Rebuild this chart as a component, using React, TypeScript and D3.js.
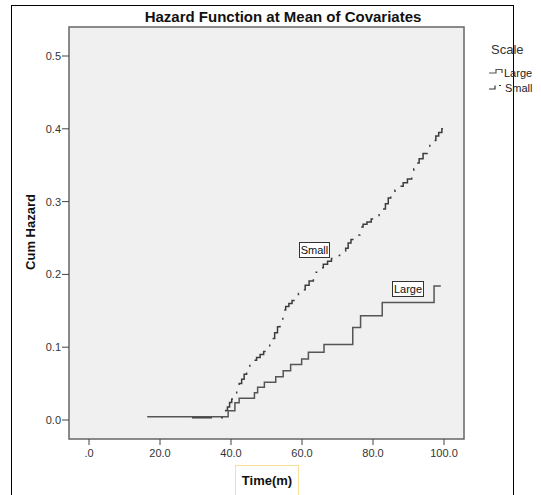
import React from "react";
import * as d3 from "d3";

const title = "Hazard Function at Mean of Covariates";
const xTicks = [0, 20, 40, 60, 80, 100];
const xTickLabels = [".0", "20.0", "40.0", "60.0", "80.0", "100.0"];
const yTicks = [0, 0.1, 0.2, 0.3, 0.4, 0.5];
const yTickLabels = ["0.0", "0.1", "0.2", "0.3", "0.4", "0.5"];
const seriesNames = ["Large", "Small"];

// Step function: jump at time -> level after jump
const largeTimes = [16.4, 39.2, 41.1, 42.3, 46.6, 47.5, 49.4, 52.6, 54.7, 56.8, 59.9, 61.8, 66.2, 74.3, 76.5, 82.6, 97.2, 99.1];
const largeHazard = [0.0045, 0.0128, 0.0237, 0.030, 0.0374, 0.0449, 0.0517, 0.0594, 0.0676, 0.0764, 0.0837, 0.0929, 0.1036, 0.1272, 0.1431, 0.1615, 0.1842, 0.1842];

const smallTimes = [29.0, 37.8, 38.5, 39.0, 39.6, 40.2, 41.0, 41.6, 42.3, 43.0, 43.7, 44.4, 45.3, 46.3, 47.2, 48.2, 49.2, 50.1, 50.9, 51.6, 52.3, 53.1, 53.8, 54.6, 55.4, 56.3, 57.2, 58.0, 59.0, 59.9, 60.9, 62.0, 63.2, 64.0, 65.0, 66.0, 67.2, 68.3, 69.3, 70.6, 71.4, 72.3, 73.0, 73.8, 74.6, 75.4, 76.3, 77.2, 78.3, 79.5, 80.6, 81.7, 82.7, 83.5, 84.3, 85.0, 86.2, 87.4, 88.5, 89.7, 90.9, 91.5, 92.1, 93.0, 94.1, 95.3, 96.0, 96.8, 97.7, 98.5, 99.4];
const smallHazard = [0.003, 0.008, 0.013, 0.018, 0.024, 0.029, 0.036, 0.042, 0.050, 0.056, 0.063, 0.071, 0.076, 0.082, 0.086, 0.090, 0.094, 0.099, 0.105, 0.112, 0.120, 0.128, 0.136, 0.151, 0.156, 0.160, 0.164, 0.169, 0.174, 0.179, 0.185, 0.191, 0.198, 0.203, 0.209, 0.214, 0.218, 0.222, 0.226, 0.229, 0.232, 0.236, 0.243, 0.248, 0.250, 0.254, 0.265, 0.269, 0.272, 0.276, 0.281, 0.285, 0.290, 0.297, 0.305, 0.312, 0.316, 0.321, 0.326, 0.331, 0.337, 0.345, 0.353, 0.359, 0.366, 0.373, 0.379, 0.384, 0.390, 0.395, 0.400];

const FONT = "'Liberation Sans', Arial, sans-serif";

export default function App() {
  const W = 541, H = 495;
  const plot = { left: 69, top: 27, right: 464, bottom: 439 };
  const x = d3.scaleLinear().domain([0, 100]).range([89, 444]);
  const y = d3.scaleLinear().domain([0, 0.5]).range([420, 56]);

  const line = d3
    .line<[number, number]>()
    .x((d) => x(d[0]))
    .y((d) => y(d[1]))
    .curve(d3.curveStepAfter);

  const largePts: [number, number][] = largeTimes.map((t, i) => [t, largeHazard[i]]);
  const smallPts: [number, number][] = smallTimes.map((t, i) => [t, smallHazard[i]]);
  smallPts.push([99.9, smallHazard[smallHazard.length - 1]]);

  return (
    <div style={{ position: "absolute", left: 0, top: 0 }}>
      <svg width={W} height={H} style={{ display: "block", fontFamily: FONT }}>
        <rect x={0} y={0} width={W} height={H} fill="#ffffff" />
        <rect x={11.5} y={5.5} width={502} height={500} fill="none" stroke="#000" strokeWidth={1} />
        <text x={283} y={22} textAnchor="middle" fontSize={15} fontWeight="bold" fill="#111">
          {title}
        </text>
        <rect
          x={plot.left}
          y={plot.top}
          width={plot.right - plot.left}
          height={plot.bottom - plot.top}
          fill="#f0f0f0"
          stroke="#666"
          strokeWidth={1.5}
        />
        {yTicks.map((v, i) => (
          <g key={"y" + i}>
            <line x1={62} x2={plot.left} y1={y(v)} y2={y(v)} stroke="#444" strokeWidth={1} />
            <text x={61} y={y(v) + 4} textAnchor="end" fontSize={11} fill="#333">
              {yTickLabels[i]}
            </text>
          </g>
        ))}
        {xTicks.map((v, i) => (
          <g key={"x" + i}>
            <line x1={x(v)} x2={x(v)} y1={plot.bottom} y2={plot.bottom + 6} stroke="#444" strokeWidth={1} />
            <text x={x(v)} y={457} textAnchor="middle" fontSize={11} fill="#333">
              {xTickLabels[i]}
            </text>
          </g>
        ))}
        <rect x={235.5} y={465.5} width={63} height={40} fill="none" stroke="#f7e19a" strokeWidth={1} />
        <text x={267} y={485} textAnchor="middle" fontSize={13} fontWeight="bold" fill="#111">
          Time(m)
        </text>
        <text
          transform="translate(35,232) rotate(-90)"
          textAnchor="middle"
          fontSize={13}
          fontWeight="bold"
          fill="#111"
        >
          Cum Hazard
        </text>

        <path d={line(smallPts) || ""} fill="none" stroke="#3c3c3c" strokeWidth={1.5} strokeDasharray="20,9,2,9" />
        <path d={line(largePts) || ""} fill="none" stroke="#555" strokeWidth={1.5} />

        <rect x={299.5} y={242.5} width={30} height={15} fill="#fff" stroke="#333" strokeWidth={1} />
        <text x={314.5} y={254} textAnchor="middle" fontSize={11} fill="#111">
          {seriesNames[1]}
        </text>
        <rect x={392.5} y={281.5} width={31} height={15} fill="#fff" stroke="#333" strokeWidth={1} />
        <text x={408} y={293} textAnchor="middle" fontSize={11} fill="#111">
          {seriesNames[0]}
        </text>

        <text x={491} y={54} fontSize={13} fill="#333">
          Scale
        </text>
        <path d="M489,73 H496 V69.5 H502 V73" fill="none" stroke="#555" strokeWidth={1.2} />
        <text x={504} y={77} fontSize={11} fill="#222">
          {seriesNames[0]}
        </text>
        <path d="M489,89 H495 V85.5" fill="none" stroke="#333" strokeWidth={1.2} />
        <path d="M499,85.5 H501" fill="none" stroke="#333" strokeWidth={1.2} />
        <text x={505} y={92} fontSize={11} fill="#222">
          {seriesNames[1]}
        </text>
      </svg>
    </div>
  );
}
